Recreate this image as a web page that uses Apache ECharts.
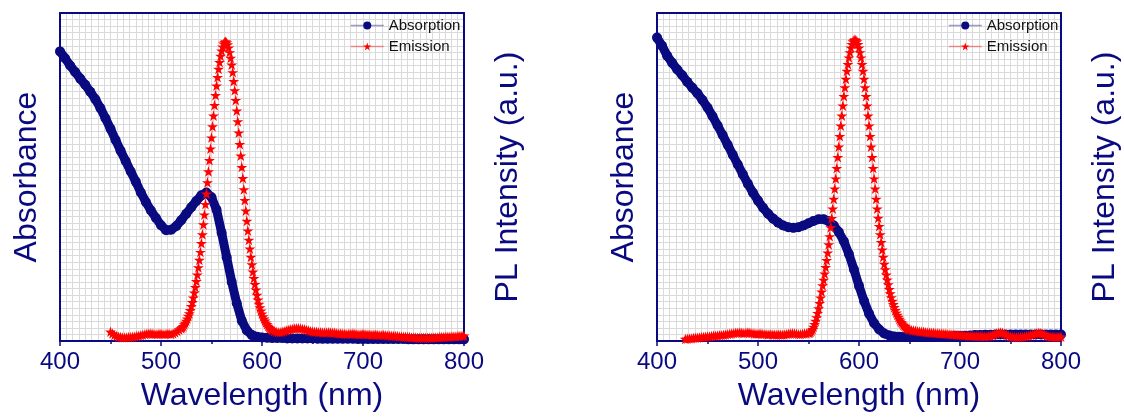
<!DOCTYPE html>
<html>
<head>
<meta charset="utf-8">
<script src="https://cdn.jsdelivr.net/npm/echarts@6.0.0/dist/echarts.min.js"></script>
<style>
  html, body { margin: 0; padding: 0; background: #fff; }
  #chart { width: 1124px; height: 417px; }
</style>
</head>
<body>
<div id="chart"></div>
<script>
// absorbance, 400..800 nm every 5 nm (arbitrary units, 0-100 of the frame)
const absLeft = [
  88.3, 86.2, 84.0, 82.0, 80.0, 78.1, 76.0, 73.7, 71.0, 67.9,
  64.7, 61.3, 58.0, 54.9, 51.7, 48.6, 45.3, 42.4, 39.8, 37.5,
  35.3, 33.8, 33.9, 35.0, 36.8, 38.8, 40.8, 42.7, 44.4, 45.3,
  43.8, 40.0, 33.0, 25.5, 18.0, 11.5, 6.2, 3.2, 1.8, 1.3,
  1.1, 1.0, 0.9, 0.9, 0.9, 0.8, 0.8, 0.8, 0.8, 0.8,
  0.8, 0.7, 0.7, 0.7, 0.7, 0.7, 0.7, 0.7, 0.7, 0.6,
  0.6, 0.6, 0.6, 0.6, 0.6, 0.6, 0.6, 0.6, 0.6, 0.5,
  0.5, 0.5, 0.5, 0.5, 0.5, 0.5, 0.5, 0.5, 0.5, 0.5,
  0.5
]
const absRight = [
  92.5, 90.0, 87.0, 84.8, 82.8, 81.0, 79.0, 77.2, 75.5, 73.5,
  71.2, 68.5, 65.7, 62.8, 59.8, 56.8, 53.8, 50.8, 47.9, 45.2,
  42.8, 40.6, 38.8, 37.3, 36.1, 35.2, 34.7, 34.5, 34.7, 35.2,
  35.9, 36.6, 37.1, 37.1, 36.5, 35.2, 33.2, 30.4, 26.5, 21.8,
  16.8, 12.2, 8.3, 5.4, 3.5, 2.3, 1.7, 1.4, 1.3, 1.2,
  1.2, 1.2, 1.2, 1.2, 1.3, 1.3, 1.3, 1.4, 1.4, 1.5,
  1.5, 1.6, 1.7, 1.8, 1.8, 1.9, 1.9, 2.0, 2.0, 2.0,
  2.0, 2.0, 2.0, 2.0, 2.0, 2.0, 2.0, 2.0, 2.0, 2.0,
  2.0
]

// PL emission, left sample: 450..518 step 2, 520..610 step 1, 612..800 step 2
const emLeftLow = [
  2.8, 2.3, 1.8, 1.5, 1.3, 1.2, 1.1, 1.1, 1.1, 1.2,
  1.2, 1.3, 1.4, 1.5, 1.6, 1.8, 1.9, 2.1, 2.2, 2.3,
  2.3, 2.2, 2.1, 2.1, 2.2, 2.2, 2.1, 2.1, 2.2, 2.2,
  2.1, 2.3, 2.6, 3.0, 3.4
]
const emLeftPeak = [
  3.8, 4.1, 4.5, 5.0, 5.5, 6.1, 6.8, 7.6, 8.4, 9.4,
  10.6, 11.8, 13.2, 14.7, 16.4, 18.2, 20.2, 22.4, 24.7, 27.1,
  29.8, 32.5, 35.5, 38.5, 41.7, 44.9, 48.3, 51.7, 55.1, 58.6,
  62.0, 65.4, 68.7, 71.9, 74.9, 77.8, 80.4, 82.9, 85.0, 86.9,
  88.5, 89.7, 90.6, 91.1, 91.3, 91.0, 90.4, 89.4, 88.0, 86.3,
  84.2, 81.9, 79.2, 76.4, 73.4, 70.2, 66.9, 63.5, 60.0, 56.5,
  53.0, 49.6, 46.2, 42.9, 39.7, 36.6, 33.6, 30.8, 28.1, 25.6,
  23.3, 21.1, 19.1, 17.3, 15.6, 14.0, 12.6, 11.3, 10.2, 9.2,
  8.3, 7.5, 6.8, 6.2, 5.6, 5.1, 4.6, 4.2, 3.9, 3.6,
  3.3
]
const emLeftHigh = [
  3.0, 2.8, 2.7, 2.7, 2.8, 3.0, 3.2, 3.4, 3.6, 3.7,
  3.8, 3.9, 3.9, 3.8, 3.7, 3.6, 3.4, 3.2, 3.0, 2.9,
  2.8, 2.8, 2.7, 2.7, 2.6, 2.6, 2.6, 2.7, 2.6, 2.5,
  2.5, 2.4, 2.3, 2.3, 2.2, 2.2, 2.1, 2.2, 2.2, 2.3,
  2.2, 2.1, 2.0, 2.1, 2.2, 2.1, 2.0, 2.0, 1.9, 1.9,
  2.0, 1.9, 1.8, 1.8, 1.9, 1.8, 1.7, 1.7, 1.6, 1.6,
  1.5, 1.5, 1.4, 1.4, 1.3, 1.3, 1.2, 1.2, 1.1, 1.1,
  1.1, 1.0, 1.0, 1.0, 1.0, 1.0, 1.0, 1.0, 1.0, 1.1,
  1.1, 1.1, 1.2, 1.2, 1.2, 1.3, 1.3, 1.3, 1.4, 1.4,
  1.4, 1.5, 1.5, 1.6, 1.6
]

// PL emission, right sample: 428..548 step 2, 550..650 step 1, 652..800 step 2
const emRightLow = [
  0.6, 0.7, 0.8, 0.8, 0.9, 1.0, 1.0, 1.1, 1.2, 1.2,
  1.3, 1.4, 1.4, 1.5, 1.6, 1.6, 1.7, 1.8, 1.8, 1.9,
  2.0, 2.1, 2.2, 2.3, 2.4, 2.5, 2.5, 2.6, 2.5, 2.4,
  2.5, 2.6, 2.5, 2.4, 2.3, 2.2, 2.2, 2.3, 2.2, 2.1,
  2.1, 2.0, 2.1, 2.0, 2.0, 1.9, 2.0, 2.0, 1.9, 2.0,
  2.1, 2.2, 2.3, 2.4, 2.3, 2.2, 2.1, 2.1, 2.2, 2.3,
  2.3
]
const emRightPeak = [
  2.4, 2.5, 2.7, 3.1, 3.6, 4.3, 5.1, 6.1, 7.2, 8.5,
  9.9, 11.5, 13.2, 15.0, 16.9, 18.6, 20.5, 22.5, 24.6, 26.9,
  29.4, 31.9, 34.6, 37.4, 40.3, 43.3, 46.4, 49.5, 52.7, 56.0,
  59.2, 62.4, 65.6, 68.7, 71.7, 74.6, 77.3, 79.9, 82.3, 84.4,
  86.4, 88.0, 89.4, 90.5, 91.3, 91.7, 91.9, 91.7, 91.3, 90.5,
  89.4, 88.0, 86.4, 84.4, 82.3, 79.9, 77.3, 74.6, 71.7, 68.7,
  65.6, 62.4, 59.2, 56.0, 52.7, 49.5, 46.4, 43.3, 40.3, 37.5,
  35.0, 32.5, 30.1, 27.8, 25.6, 23.5, 21.8, 20.2, 18.7, 17.2,
  15.8, 14.5, 13.3, 12.2, 11.2, 10.3, 9.4, 8.6, 7.9, 7.3,
  6.7, 6.2, 5.7, 5.3, 4.9, 4.6, 4.3, 4.0, 3.8, 3.6,
  3.5
]
const emRightHigh = [
  3.3, 3.2, 3.1, 3.0, 2.9, 2.8, 2.8, 2.7, 2.6, 2.6,
  2.5, 2.5, 2.4, 2.4, 2.3, 2.3, 2.2, 2.2, 2.1, 2.1,
  2.0, 2.0, 1.9, 1.9, 1.8, 1.8, 1.7, 1.7, 1.6, 1.6,
  1.6, 1.5, 1.5, 1.5, 1.5, 1.5, 1.4, 1.4, 1.5, 1.6,
  1.8, 2.0, 2.3, 2.5, 2.6, 2.5, 2.2, 1.9, 1.6, 1.4,
  1.3, 1.2, 1.2, 1.2, 1.3, 1.3, 1.4, 1.5, 1.6, 1.8,
  2.0, 2.2, 2.4, 2.5, 2.4, 2.2, 1.9, 1.6, 1.4, 1.3,
  1.3, 1.2, 1.2, 1.3, 1.3
]

const navy = '#0a0a80'
const red = '#ff0000'
const font = 'Liberation Sans, Arial, sans-serif'
const star = 'path://M50,0 L61.8,35.4 L98.9,35.4 L68.9,57.3 L80.3,92.7 L50,70.8 L19.7,92.7 L31.1,57.3 L1.1,35.4 L38.2,35.4 Z'

// turn a sampled run into [wavelength, value] pairs
function seg(start, step, vals) {
  return vals.map((v, i) => [start + i * step, v])
}

const chart = echarts.init(document.getElementById('chart'))

const xBottom = (gi) => ({
  gridIndex: gi,
  type: 'value',
  position: 'bottom',
  min: 400,
  max: 800,
  interval: 100,
  name: 'Wavelength (nm)',
  nameLocation: 'middle',
  nameGap: 39,
  nameTextStyle: { color: navy, fontSize: 32, fontFamily: font },
  axisLine: { show: true, onZero: false, lineStyle: { color: navy, width: 2 } },
  axisTick: { show: true, inside: false, length: 5, lineStyle: { color: navy, width: 1.5 } },
  minorTick: { show: true, splitNumber: 2, length: 3, lineStyle: { color: navy, width: 1.5 } },
  axisLabel: { color: navy, fontSize: 24, fontFamily: font, margin: 9 },
  splitLine: { show: false }
})
// top axis only carries the frame edge and the fine grid
const xTop = (gi) => ({
  gridIndex: gi,
  type: 'value',
  position: 'top',
  min: 400,
  max: 800,
  interval: 6.25,
  axisLine: { show: true, onZero: false, lineStyle: { color: navy, width: 2 } },
  axisTick: { show: false },
  axisLabel: { show: false },
  splitLine: { show: true, lineStyle: { color: '#dadada', width: 1 } }
})
const yLeft = (gi) => ({
  gridIndex: gi,
  type: 'value',
  position: 'left',
  min: 0,
  max: 100,
  interval: 2,
  name: 'Absorbance',
  nameLocation: 'middle',
  nameRotate: 90,
  nameGap: 17,
  nameTextStyle: { color: navy, fontSize: 32, fontFamily: font },
  axisLine: { show: true, lineStyle: { color: navy, width: 2 } },
  axisTick: { show: false },
  axisLabel: { show: false },
  splitLine: { show: true, lineStyle: { color: '#dadada', width: 1 } }
})
const yRight = (gi) => ({
  gridIndex: gi,
  type: 'value',
  position: 'right',
  min: 0,
  max: 100,
  name: 'PL Intensity (a.u.)',
  nameLocation: 'middle',
  nameRotate: 90,
  nameGap: 28,
  nameTextStyle: { color: navy, fontSize: 32, fontFamily: font },
  axisLine: { show: true, lineStyle: { color: navy, width: 2 } },
  axisTick: { show: false },
  axisLabel: { show: false },
  splitLine: { show: false }
})

const absSeries = (xi, yi, data) => ({
  name: 'Absorption',
  type: 'line',
  xAxisIndex: xi,
  yAxisIndex: yi,
  data: data,
  symbol: 'circle',
  symbolSize: 10,
  itemStyle: { color: navy },
  lineStyle: { color: navy, width: 9 },
  z: 2
})
const emSeries = (xi, yi, data) => ({
  name: 'Emission',
  type: 'line',
  xAxisIndex: xi,
  yAxisIndex: yi,
  data: data,
  symbol: star,
  symbolSize: 11,
  symbolKeepAspect: true,
  itemStyle: { color: red },
  lineStyle: { color: red, width: 1, opacity: 0.5 },
  z: 3
})
const legendAt = (left) => ({
  left: left,
  top: 18,
  orient: 'vertical',
  padding: 0,
  itemGap: 6,
  itemWidth: 33,
  itemHeight: 10,
  data: ['Absorption', 'Emission'],
  lineStyle: { width: 1.5, opacity: 0.4 },
  textStyle: { fontSize: 15, color: '#111', fontFamily: font }
})

const option = {
  animation: false,
  backgroundColor: '#fff',
  grid: [
    { left: 60, right: 660, top: 13, bottom: 74 },
    { left: 657, right: 63, top: 13, bottom: 74 }
  ],
  legend: [legendAt(350), legendAt(948)],
  xAxis: [xBottom(0), xTop(0), xBottom(1), xTop(1)],
  yAxis: [yLeft(0), yRight(0), yLeft(1), yRight(1)],
  series: [
    absSeries(0, 0, seg(400, 5, absLeft)),
    emSeries(0, 1, seg(450, 2, emLeftLow).concat(seg(520, 1, emLeftPeak), seg(612, 2, emLeftHigh))),
    absSeries(2, 2, seg(400, 5, absRight)),
    emSeries(2, 3, seg(428, 2, emRightLow).concat(seg(550, 1, emRightPeak), seg(652, 2, emRightHigh)))
  ]
}

chart.setOption(option)
</script>
</body>
</html>
